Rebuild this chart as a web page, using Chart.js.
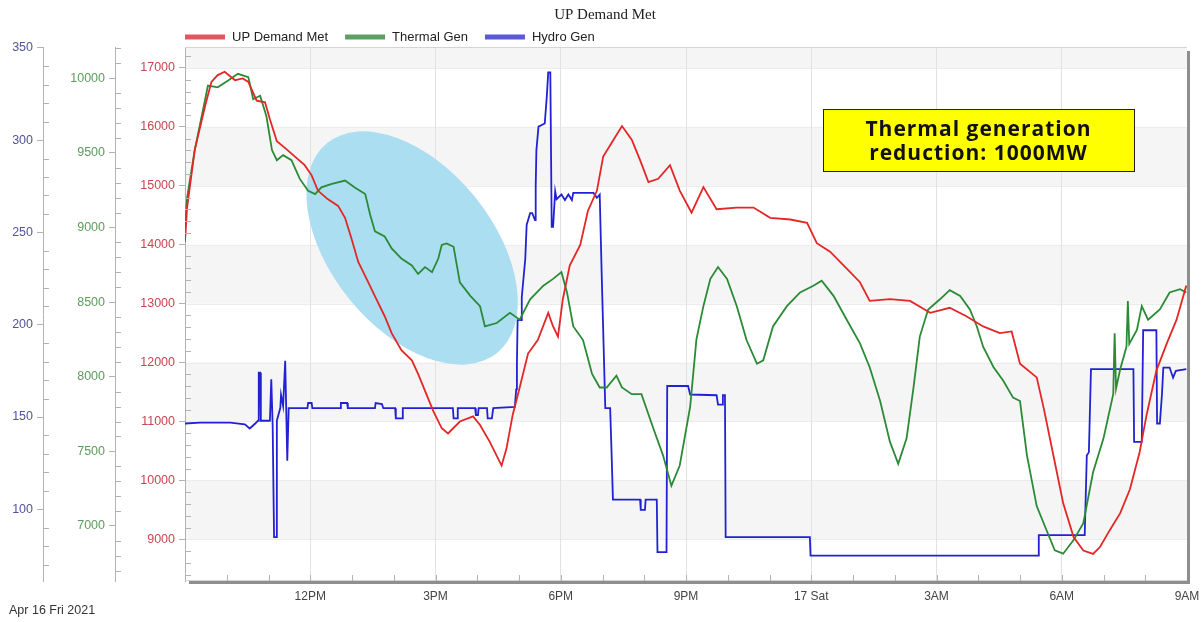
<!DOCTYPE html>
<html><head><meta charset="utf-8">
<script src="https://cdn.jsdelivr.net/npm/chart.js@4.4.1/dist/chart.umd.min.js"></script>
<style>html,body{margin:0;padding:0;background:#fff;overflow:hidden}</style>
</head><body>
<canvas id="c" width="1203" height="622"></canvas>
<script>
// ---------- DATA (clock times, 16 Apr 09:00 -> 17 Apr 09:00) ----------
const demandTimes = ['09:00','09:03','09:14','09:29','09:38','09:47','09:57','10:12','10:23','10:31','10:43','10:55','11:02','11:12','11:24','11:38','11:52','12:02','12:11','12:25','12:40','12:50','12:59','13:09','13:21','13:35','13:47','13:57','14:11','14:26','14:35','14:47','14:57','15:09','15:18','15:35','15:54','16:04','16:18','16:35','16:42','16:51','17:01','17:13','17:27','17:42','17:49','17:56','18:03','18:13','18:28','18:39','18:52','19:01','19:13','19:28','19:42','19:54','20:06','20:20','20:37','20:51','21:08','21:25','21:44','22:13','22:37','23:01','23:30','23:54','00:08','00:27','00:51','01:10','01:24','01:53','02:22','02:51','03:19','03:43','04:07','04:31','04:48','05:00','05:24','05:34','05:48','06:02','06:17','06:31','06:45','06:55','07:09','07:24','07:38','07:52','08:02','08:16','08:31','08:45','08:59'];
const demandValues = [14050,14631,15611,16360,16764,16879,16936,16793,16822,16764,16446,16417,16129,15755,15640,15495,15351,15178,14919,14775,14659,14457,14113,13708,13421,13075,12786,12499,12210,12037,11806,11461,11172,10884,10797,10999,11086,10941,10654,10250,10539,11115,11577,12152,12383,12844,12613,12441,13075,13651,13997,14573,14919,15495,15726,16015,15784,15437,15064,15120,15351,14919,14544,14977,14602,14631,14631,14457,14428,14371,14026,13882,13593,13363,13046,13075,13046,12844,12930,12786,12613,12499,12528,11979,11748,11230,10423,9617,9039,8810,8752,8868,9155,9443,9848,10481,11115,11864,12326,12728,13306];

const thermalTimes = ['09:00','09:03','09:14','09:33','09:47','10:02','10:16','10:31','10:38','10:48','10:57','11:05','11:12','11:21','11:33','11:45','11:57','12:07','12:16','12:31','12:50','13:04','13:19','13:26','13:33','13:47','13:57','14:11','14:26','14:35','14:45','14:55','15:04','15:09','15:16','15:26','15:35','15:50','16:04','16:11','16:28','16:47','17:01','17:16','17:35','17:49','18:01','18:09','18:18','18:32','18:45','18:56','19:06','19:20','19:28','19:42','19:56','20:13','20:27','20:39','20:51','21:06','21:15','21:25','21:35','21:46','21:59','22:13','22:27','22:42','22:51','23:05','23:25','23:44','00:03','00:15','00:32','00:51','01:10','01:24','01:39','01:53','02:05','02:17','02:27','02:36','02:48','03:05','03:19','03:34','03:48','03:58','04:07','04:22','04:36','04:50','05:00','05:10','05:24','05:38','05:50','06:02','06:17','06:31','06:45','07:00','07:14','07:16','07:18','07:24','07:33','07:35','07:37','07:48','07:55','08:04','08:21','08:35','08:50','08:59'];
const thermalValues = [9000,9201,9519,9951,9940,9985,10030,10008,9860,9883,9746,9519,9451,9485,9451,9326,9246,9224,9269,9292,9315,9269,9224,9087,8974,8940,8860,8792,8746,8689,8735,8701,8792,8883,8894,8871,8633,8542,8473,8337,8360,8428,8382,8519,8610,8656,8701,8565,8337,8246,8019,7928,7928,8007,7928,7883,7883,7655,7473,7269,7405,7800,8250,8473,8656,8735,8656,8473,8246,8087,8110,8337,8473,8565,8610,8644,8542,8382,8224,8064,7837,7565,7417,7587,7928,8269,8451,8519,8580,8542,8451,8337,8201,8064,7973,7860,7837,7473,7133,6973,6837,6814,6905,7019,7360,7587,7883,8292,7920,8050,8201,8508,8220,8314,8473,8382,8451,8565,8587,8565];

const hydroTimes = ['09:00','09:22','10:05','10:26','10:33','10:41','10:45','10:46','10:48','10:49','11:02','11:04','11:05','11:06','11:08','11:11','11:12','11:17','11:18','11:21','11:24','11:25','11:27','11:28','11:29','11:56','11:57','12:02','12:03','12:43','12:44','12:53','12:54','13:33','13:34','13:43','13:45','14:02','14:03','14:12','14:13','15:25','15:26','15:31','15:32','15:57','15:58','16:01','16:02','16:14','16:15','16:21','16:23','16:54','16:56','16:57','16:58','17:03','17:04','17:09','17:11','17:16','17:19','17:23','17:24','17:25','17:28','17:37','17:40','17:42','17:45','17:47','17:49','17:52','17:54','18:01','18:06','18:11','18:16','18:18','18:47','18:52','18:56','18:59','19:01','19:04','19:11','19:13','19:15','19:54','19:55','20:01','20:02','20:18','20:19','20:32','20:33','21:03','21:06','21:44','21:46','21:52','21:53','21:56','21:57','23:58','23:59','05:26','05:27','06:33','06:36','06:39','06:42','07:43','07:44','07:55','07:57','08:16','08:17','08:21','08:24','08:26','08:35','08:40','08:44','08:59'];
const hydroValues = [146.5,147,147,146,143.8,146.5,148,174,174,148,148,170.5,170.5,145,85,85,148,155,162,156,180.5,180.5,126.4,126.4,154.8,154.8,157.6,157.6,154.8,154.8,157.6,157.6,154.8,154.8,157.6,157,154.8,154.8,149.3,149.3,154.8,154.8,149.3,149.3,154.8,154.8,151.1,151.1,154.8,154.8,149.3,149.3,154.8,155.5,165,178.7,202.5,202.5,215,235.6,254,260.4,260.4,256.7,275,294.4,307.3,309,323.8,336.6,336.6,253,253,272.3,268,270.5,267.5,270.5,267.5,271.4,271.4,268.7,270.5,225,197,154.8,154.8,131,105.3,105.3,99.7,99.7,105.3,105.3,76.8,76.8,166.8,166.8,162.2,161.8,156.7,156.7,161.8,161.8,85,85,74.9,74.9,86,86,129.1,131,175.9,175.9,136.5,136.5,197,197,146.5,146.5,162.2,176.8,176.8,171.3,175,176];

const seriesNames = ['UP Demand Met','Thermal Gen','Hydro Gen'];

// axis ticks (labelled) and ranges
const xTickHours = [3,6,9,12,15,18,21,24];
const xTickLabels = ['12PM','3PM','6PM','9PM','17 Sat','3AM','6AM','9AM'];
const demandTicks = [9000,10000,11000,12000,13000,14000,15000,16000,17000];
const thermalTicks = [7000,7500,8000,8500,9000,9500,10000];
const hydroTicks = [100,150,200,250,300,350];
const demandRange = [8292, 17356];
const thermalRange = [6631, 10210];
const hydroRange = [61.2, 350.4];
const grayBands = [[9000,10000],[11000,12000],[13000,14000],[15000,16000],[17000,17400]];

// annotations (in data coordinates: hours after 09:00, demand axis)
const ellipseNote = {t: 5.44, v: 13944, rx: 135, ry: 81, angle: 51};
const boxNote = {t1: 15.28, t2: 22.73, v1: 16304, v2: 15252,
  lines: ['Thermal generation', 'reduction: 1000MW']};
const dateLabel = 'Apr 16 Fri 2021';
const chartTitle = 'UP Demand Met';

// ---------- helpers ----------
function toHours(s){
  const [h,m] = s.split(':').map(Number);
  let mins = h*60 + m - 540;
  if (mins < 0) mins += 1440;
  return mins/60;
}
function pts(times, vals){
  const n = Math.min(times.length, vals.length), out = [];
  for (let i=0;i<n;i++) out.push({x: toHours(times[i]), y: vals[i]});
  return out;
}

const SANS = "'Liberation Sans', Arial, sans-serif";
Chart.defaults.font.family = SANS;

const lineColors = ['#e32626','#2b8a36','#2222d4'];
const legendColors = ['#e0585e','#5d9f62','#5a5ad8'];
const tickColors = {y:'#c8464f', yT:'#5c9c5c', yH:'#52529f'};
const axisGray = '#b2b2b2';

function yAxis(weight, range, ticks, width, color){
  return {
    type:'linear', position:'left', weight: weight,
    min: range[0], max: range[1],
    afterBuildTicks: s => { s.ticks = ticks.map(v => ({value: v})); },
    afterFit: s => { s.width = width; },
    grid: {drawOnChartArea:false, drawTicks:true, tickLength:6, color: axisGray},
    border: {display:true, color: axisGray},
    ticks: {color: color, font:{size:12.5}, padding:4, callback: v => String(v)}
  };
}

const deco = {
  id:'deco',
  beforeDraw(chart){
    const {ctx, chartArea:a, scales} = chart;
    const y = scales.y;
    ctx.save();
    ctx.fillStyle = '#f5f5f5';
    for (const [lo,hi] of grayBands){
      const top = y.getPixelForValue(Math.min(hi, y.max));
      const bot = y.getPixelForValue(Math.max(lo, y.min));
      ctx.fillRect(a.left, top, a.right - a.left, bot - top);
    }
    ctx.strokeStyle = '#ececec'; ctx.lineWidth = 1;
    for (const v of demandTicks){
      const py = Math.round(y.getPixelForValue(v)) + 0.5;
      ctx.beginPath(); ctx.moveTo(a.left, py); ctx.lineTo(a.right, py); ctx.stroke();
    }
    ctx.restore();
  },
  beforeDatasetsDraw(chart){
    const {ctx, chartArea:a, scales} = chart;
    ctx.save();
    ctx.beginPath(); ctx.rect(a.left, a.top, a.right-a.left, a.bottom-a.top); ctx.clip();
    const cx = scales.x.getPixelForValue(ellipseNote.t);
    const cy = scales.y.getPixelForValue(ellipseNote.v);
    ctx.beginPath();
    ctx.ellipse(cx, cy, ellipseNote.rx, ellipseNote.ry, ellipseNote.angle*Math.PI/180, 0, Math.PI*2);
    ctx.fillStyle = 'rgb(172,222,242)';
    ctx.fill();
    ctx.restore();
  },
  afterDatasetsDraw(chart){
    const {ctx, scales} = chart;
    const x1 = Math.round(scales.x.getPixelForValue(boxNote.t1));
    const x2 = Math.round(scales.x.getPixelForValue(boxNote.t2));
    const y1 = Math.round(scales.y.getPixelForValue(boxNote.v1));
    const y2 = Math.round(scales.y.getPixelForValue(boxNote.v2));
    ctx.save();
    ctx.fillStyle = '#ffff00';
    ctx.fillRect(x1, y1, x2-x1, y2-y1);
    ctx.strokeStyle = '#222'; ctx.lineWidth = 1;
    ctx.strokeRect(x1+0.5, y1+0.5, x2-x1, y2-y1);
    ctx.fillStyle = '#111';
    ctx.font = "bold 21px 'Open Sans', sans-serif";
    try { ctx.letterSpacing = '1px'; } catch(e) {}
    ctx.textAlign = 'center'; ctx.textBaseline = 'alphabetic';
    const cx = (x1+x2)/2;
    ctx.fillText(boxNote.lines[0], cx, y1 + 27);
    ctx.fillText(boxNote.lines[1], cx, y1 + 51);
    ctx.restore();
  },
  afterDraw(chart){
    const {ctx, chartArea:a, scales} = chart;
    ctx.save();
    // plot frame
    ctx.strokeStyle = '#d4d4d4'; ctx.lineWidth = 1;
    ctx.beginPath(); ctx.moveTo(a.left, a.top+0.5); ctx.lineTo(a.right, a.top+0.5); ctx.stroke();
    ctx.beginPath(); ctx.moveTo(a.left, a.bottom-0.5); ctx.lineTo(a.right, a.bottom-0.5); ctx.stroke();
    ctx.fillStyle = '#8e8e8e';
    ctx.fillRect(a.right, a.top + 4, 3, a.bottom - a.top - 1);
    ctx.fillRect(a.left + 4, a.bottom, a.right - a.left - 1, 3);
    // x ticks (hourly) inside the plot
    ctx.strokeStyle = axisGray;
    for (let h = 1; h < 24; h++){
      const px = Math.round(scales.x.getPixelForValue(h)) + 0.5;
      ctx.beginPath(); ctx.moveTo(px, a.bottom - 6); ctx.lineTo(px, a.bottom); ctx.stroke();
    }
    // minor y ticks
    const minor = (scale, step, majorStep) => {
      const x0 = Math.round(scale.right) ;
      const start = Math.ceil(scale.min/step)*step;
      for (let v = start; v <= scale.max + 1e-9; v += step){
        if (Math.abs(v/majorStep - Math.round(v/majorStep)) < 1e-6) continue;
        const py = Math.round(scale.getPixelForValue(v)) + 0.5;
        ctx.beginPath(); ctx.moveTo(x0, py); ctx.lineTo(x0 + 6, py); ctx.stroke();
      }
    };
    minor(scales.yH, 10, 50);
    minor(scales.yT, 100, 500);
    minor(scales.y, 200, 1000);
    // title
    ctx.fillStyle = '#222';
    ctx.font = "15px 'Liberation Serif', 'Times New Roman', serif";
    ctx.textAlign = 'center'; ctx.textBaseline = 'middle';
    ctx.fillText(chartTitle, 605, 15);
    // legend
    ctx.font = '13px ' + SANS;
    ctx.textAlign = 'left';
    let lx = a.left;
    const ly = 37;
    chart.data.datasets.forEach((ds, i) => {
      ctx.fillStyle = legendColors[i];
      ctx.fillRect(lx, ly - 2.5, 40, 5);
      ctx.fillStyle = '#222';
      ctx.fillText(ds.label, lx + 47, ly);
      lx += 47 + ctx.measureText(ds.label).width + 17;
    });
    // date
    ctx.fillStyle = '#333';
    ctx.font = '12.5px ' + SANS;
    ctx.fillText(dateLabel, 9, 611);
    ctx.restore();
  }
};

new Chart(document.getElementById('c'), {
  type: 'line',
  data: {
    datasets: [
      {label: seriesNames[0], data: pts(demandTimes, demandValues), yAxisID:'y',  borderColor: lineColors[0], borderWidth:1.8, pointRadius:0, tension:0},
      {label: seriesNames[1], data: pts(thermalTimes, thermalValues), yAxisID:'yT', borderColor: lineColors[1], borderWidth:1.8, pointRadius:0, tension:0},
      {label: seriesNames[2], data: pts(hydroTimes, hydroValues), yAxisID:'yH', borderColor: lineColors[2], borderWidth:1.8, pointRadius:0, tension:0}
    ]
  },
  options: {
    responsive:false, animation:false, devicePixelRatio:1,
    layout: {padding: {left:0, top:47, right:16, bottom:0}},
    plugins: {legend:{display:false}, title:{display:false}, tooltip:{enabled:false}},
    scales: {
      x: {
        type:'linear', position:'bottom', min:0, max:24,
        afterBuildTicks: s => { s.ticks = Array.from({length:25}, (_,h) => ({value:h})); },
        afterFit: s => { s.height = 41; s.paddingRight = 0; s.paddingLeft = 0; },
        grid: {
          drawTicks:false,
          color: c => { const v = c.tick ? c.tick.value : -1; return (v > 0 && v < 24 && v % 3 === 0) ? '#e2e2e2' : 'rgba(0,0,0,0)'; }
        },
        border: {display:false},
        ticks: {
          autoSkip:false, maxRotation:0, padding:8, color:'#444', font:{size:12},
          callback: v => { const i = xTickHours.indexOf(v); return i >= 0 ? xTickLabels[i] : ''; }
        }
      },
      y:  yAxis(0, demandRange, demandTicks, 70, tickColors.y),
      yT: yAxis(1, thermalRange, thermalTicks, 72, tickColors.yT),
      yH: yAxis(2, hydroRange, hydroTicks, 43, tickColors.yH)
    }
  },
  plugins: [deco]
});
</script>
</body></html>
